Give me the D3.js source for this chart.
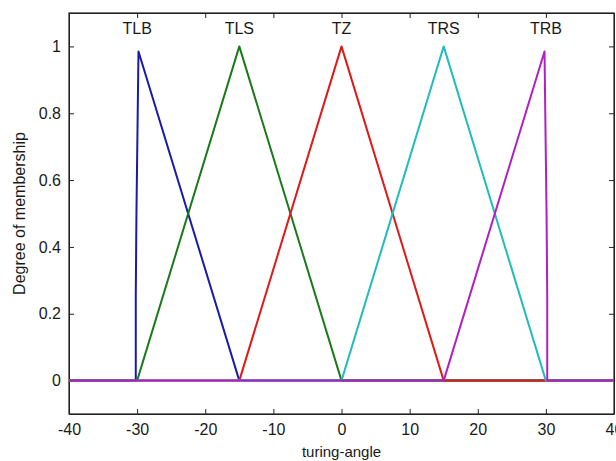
<!DOCTYPE html>
<html>
<head>
<meta charset="utf-8">
<script src="https://cdn.jsdelivr.net/npm/d3@7"></script>
<style>
  body { margin: 0; background: #fff; }
  svg text { font-family: "Liberation Sans", Arial, sans-serif; fill: #1a1a1a; }
  .axis path, .axis line { stroke: #222; }
</style>
</head>
<body>
<div id="graf"></div>
<script>
// datos
const xTicks = [-40, -30, -20, -10, 0, 10, 20, 30, 40]
const yTicks = [0, 0.2, 0.4, 0.6, 0.8, 1]
const mfNombres = ["TLB", "TLS", "TZ", "TRS", "TRB"]
const mfCentros = [-30, -15, 0, 15, 30]
const mfColores = ["#1a1aa8", "#1a7a1a", "#e01818", "#22bcbc", "#b01fc0"]

const tlb = [[-40, 0], [-30.2, 0], [-30.2, 0.25], [-30.1, 0.5], [-29.8, 0.985], [-15, 0], [40, 0]]
const tls = [[-40, 0], [-30, 0], [-15, 1], [0, 0], [40, 0]]
const tz = [[-40, 0], [-15, 0], [0, 1], [15, 0], [40, 0]]
const trs = [[-40, 0], [0, 0], [15, 1], [30, 0], [40, 0]]
const trb = [[-40, 0], [15, 0], [29.8, 0.985], [30.1, 0.5], [30.2, 0.25], [30.2, 0], [40, 0]]
const series = [tlb, tls, tz, trs, trb]

const anchoTotal = 616
const altoTotal = 461
const margins = { top: 13, right: 2, bottom: 47, left: 69 }
const ancho = anchoTotal - margins.left - margins.right
const alto = altoTotal - margins.top - margins.bottom

const svg = d3.select("#graf").append("svg")
    .attr("width", anchoTotal).attr("height", altoTotal)
const g = svg.append("g").attr("transform", `translate(${margins.left}, ${margins.top})`)

const x = d3.scaleLinear().domain([-40, 40]).range([0, ancho])
const y = d3.scaleLinear().domain([-0.1, 1.1]).range([alto, 0])

// ejes (guion normal como en matlab)
const ejeX = d3.axisBottom(x).tickValues(xTicks).tickSizeInner(-5).tickSizeOuter(0).tickPadding(10)
    .tickFormat(d => String(d))
const ejeY = d3.axisLeft(y).tickValues(yTicks).tickSizeInner(-5).tickSizeOuter(0).tickPadding(8)
    .tickFormat(d => String(+d.toFixed(1)))

g.append("g").attr("class", "axis").attr("transform", `translate(0, ${alto})`).call(ejeX)
    .selectAll("text").attr("font-size", 16)
g.append("g").attr("class", "axis").call(ejeY)
    .selectAll("text").attr("font-size", 16)
g.append("g").attr("class", "axis")
    .call(d3.axisTop(x).tickValues(xTicks).tickSizeInner(-5).tickSizeOuter(0).tickFormat(""))
g.append("g").attr("class", "axis").attr("transform", `translate(${ancho}, 0)`)
    .call(d3.axisRight(y).tickValues(yTicks).tickSizeInner(-5).tickSizeOuter(0).tickFormat(""))

// marco
g.append("rect").attr("width", ancho).attr("height", alto)
    .attr("fill", "none").attr("stroke", "#222").attr("stroke-width", 1.2)

// funciones de pertenencia
const linea = d3.line().x(d => x(d[0])).y(d => y(d[1]))
g.selectAll(".mf").data(series).enter().append("path")
    .attr("class", "mf")
    .attr("d", linea)
    .attr("fill", "none")
    .attr("stroke", (d, i) => mfColores[i])
    .attr("stroke-width", 2)
    .attr("stroke-linejoin", "round")

// nombres
g.selectAll(".nombre").data(mfNombres).enter().append("text")
    .attr("x", (d, i) => x(mfCentros[i]))
    .attr("y", 21)
    .attr("text-anchor", "middle")
    .attr("font-size", 16)
    .text(d => d)

// titulos
g.append("text").attr("x", ancho / 2).attr("y", alto + 43)
    .attr("text-anchor", "middle").attr("font-size", 15).text("turing-angle")
svg.append("text")
    .attr("transform", `translate(25, ${margins.top + alto / 2}) rotate(-90)`)
    .attr("text-anchor", "middle").attr("font-size", 16).text("Degree of membership")
</script>
</body>
</html>
